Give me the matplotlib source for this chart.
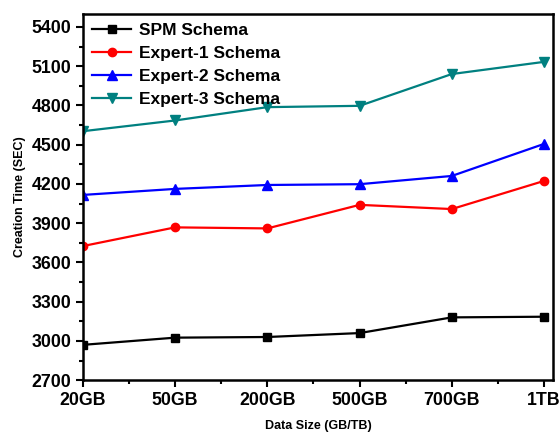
import matplotlib
matplotlib.use('Agg')
import matplotlib.pyplot as plt
from matplotlib.ticker import MultipleLocator

plt.rcParams['font.family'] = 'Liberation Sans'
plt.rcParams['font.weight'] = 'bold'

sizes = ['20GB', '50GB', '200GB', '500GB', '700GB', '1TB']
spm = [2970, 3025, 3030, 3060, 3180, 3185]
expert1 = [3725, 3868, 3860, 4040, 4008, 4223]
expert2 = [4116, 4162, 4192, 4198, 4261, 4506]
expert3 = [4603, 4685, 4787, 4797, 5040, 5133]

x = list(range(len(sizes)))

fig = plt.figure(figsize=(5.6, 4.33), dpi=100)
ax = fig.add_axes([0.148, 0.122, 0.840, 0.846])

ax.plot(x, spm, color='black', marker='s', lw=1.6, ms=5.5, label='SPM Schema')
ax.plot(x, expert1, color='red', marker='o', lw=1.6, ms=6, label='Expert-1 Schema')
ax.plot(x, expert2, color='blue', marker='^', lw=1.6, ms=6.5, label='Expert-2 Schema')
ax.plot(x, expert3, color='#008080', marker='v', lw=1.6, ms=6.5, label='Expert-3 Schema')

ax.set_xlim(0, 5.1)
ax.set_ylim(2700, 5500)
ax.set_xticks(x)
ax.set_xticklabels(sizes)
ax.xaxis.set_minor_locator(MultipleLocator(0.5))
ax.yaxis.set_major_locator(MultipleLocator(300))
ax.yaxis.set_minor_locator(MultipleLocator(150))
ax.tick_params(axis='both', which='major', labelsize=12.8, width=1.5, length=5)
ax.tick_params(axis='both', which='minor', width=1.5, length=3)
for s in ax.spines.values():
    s.set_linewidth(1.8)

ax.set_xlabel('Data Size (GB/TB)', fontsize=9, fontweight='bold', labelpad=8)
ax.set_ylabel('Creation Time (SEC)', fontsize=9, fontweight='bold')

ax.legend(loc='upper left', frameon=False, fontsize=12.5, handlelength=2.3,
          borderpad=0.2, borderaxespad=0.3, labelspacing=0.46, handletextpad=0.45)

plt.savefig('out.png', dpi=100)
